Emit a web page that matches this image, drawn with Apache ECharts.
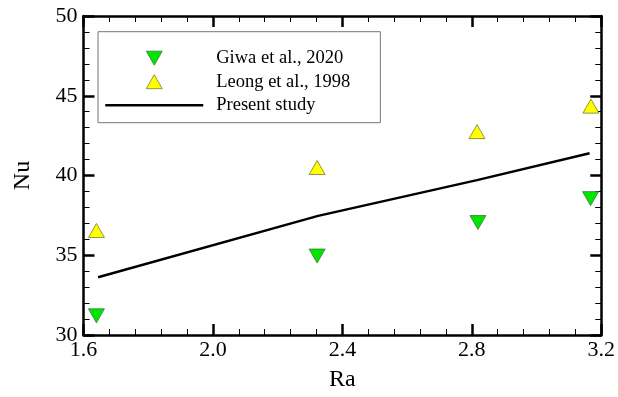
<!DOCTYPE html>
<html><head><meta charset="utf-8">
<script src="https://cdn.jsdelivr.net/npm/echarts@6/dist/echarts.min.js"></script>
<style>html,body{margin:0;padding:0;background:#fff}#c{width:618px;height:397px}</style>
</head><body><div id="c"></div>
<script>
const giwaRa = [1.64, 2.322, 2.819, 3.167];
const giwaNu = [31.2, 34.95, 37.05, 38.55];
const leongRa = [1.64, 2.322, 2.816, 3.168];
const leongNu = [36.55, 40.5, 42.75, 44.35];
const presentRa = [1.645, 2.325, 2.816, 3.164];
const presentNu = [33.62, 37.47, 39.71, 41.39];
const seriesNames = ['Giwa et al., 2020', 'Leong et al., 1998', 'Present study'];
const xTicks = {min: 1.6, max: 3.2, step: 0.4};
const yTicks = {min: 30, max: 50, step: 5};

const zip = (a, b) => a.map((v, i) => [v, b[i]]);
const font = 'Liberation Serif';
const upTri = 'path://M0,14L8,0L16,14Z';
const downTri = 'path://M0,0L16,0L8,14Z';
const axisBase = () => ({
  type: 'value',
  axisLine: {show: true, onZero: false, lineStyle: {color: '#000', width: 2.5}},
  axisTick: {show: true, inside: true, length: 11, lineStyle: {color: '#000', width: 2.5}},
  minorTick: {show: true, splitNumber: 5, length: 6, lineStyle: {color: '#000', width: 1}},
  splitLine: {show: false},
});
const greenStyle = {color: '#00e600', borderColor: '#3a7a3a', borderWidth: 0.8, opacity: 1};
const yellowStyle = {color: '#ffff00', borderColor: '#7a7a30', borderWidth: 0.8, opacity: 1};
const chart = echarts.init(document.getElementById('c'));
chart.setOption({
  animation: false,
  backgroundColor: '#fff',
  grid: {left: 83.5, right: 13, top: 16, bottom: 57.5},
  xAxis: [
    Object.assign(axisBase(), {
      min: xTicks.min, max: xTicks.max, interval: xTicks.step, position: 'bottom',
      name: 'Ra', nameLocation: 'middle', nameGap: 33,
      nameTextStyle: {fontFamily: font, fontSize: 24, color: '#000', verticalAlign: 'top'},
      axisLabel: {fontFamily: font, fontSize: 22, color: '#000', margin: 4, formatter: v => v.toFixed(1)}
    }),
    Object.assign(axisBase(), {
      min: xTicks.min, max: xTicks.max, interval: xTicks.step, position: 'top',
      axisLabel: {show: false}
    })
  ],
  yAxis: [
    Object.assign(axisBase(), {
      min: yTicks.min, max: yTicks.max, interval: yTicks.step, position: 'left',
      name: 'Nu', nameLocation: 'middle', nameGap: 49, nameRotate: 90,
      nameTextStyle: {fontFamily: font, fontSize: 24, color: '#000'},
      axisLabel: {fontFamily: font, fontSize: 22, color: '#000', margin: 6}
    }),
    Object.assign(axisBase(), {
      min: yTicks.min, max: yTicks.max, interval: yTicks.step, position: 'right',
      axisLabel: {show: false}
    })
  ],
  legend: {
    left: 98, top: 31.7, orient: 'vertical',
    padding: [17, 30, 8, 6],
    itemWidth: 98, itemHeight: 14, itemGap: 4.5,
    borderColor: '#777', borderWidth: 1,
    backgroundColor: '#fff',
    symbolKeepAspect: true,
    textStyle: {fontFamily: font, fontSize: 18.5, lineHeight: 18, color: '#000', padding: [0, 0, 0, 8]},
    data: [
      {name: seriesNames[0], icon: downTri, symbolRotate: 0, itemStyle: greenStyle},
      {name: seriesNames[1], icon: upTri, symbolRotate: 0, itemStyle: yellowStyle},
      {name: seriesNames[2], itemStyle: {color: 'rgba(0,0,0,0)', borderWidth: 0}, lineStyle: {color: '#000', width: 2.5}}
    ]
  },
  series: [
    {
      name: seriesNames[0], type: 'scatter', data: zip(giwaRa, giwaNu),
      symbol: 'triangle', symbolRotate: 180, symbolSize: [16, 14],
      itemStyle: greenStyle, z: 3
    },
    {
      name: seriesNames[1], type: 'scatter', data: zip(leongRa, leongNu),
      symbol: 'triangle', symbolSize: [16, 14],
      itemStyle: yellowStyle, z: 3
    },
    {
      name: seriesNames[2], type: 'line', data: zip(presentRa, presentNu),
      symbol: 'none', lineStyle: {color: '#000', width: 2.5},
      itemStyle: {color: '#000'}, z: 2
    }
  ]
});
</script></body></html>
